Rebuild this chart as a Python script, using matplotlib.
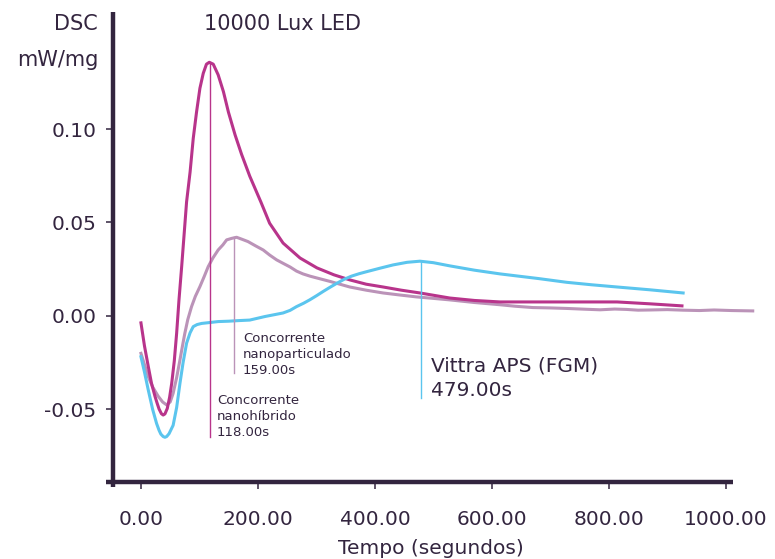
import matplotlib.pyplot as plt

# --- data ---
t_hibrido = [0, 6, 12.5, 18, 24, 28, 31, 35, 38, 41, 45, 49, 52.6, 57, 61, 65, 69.6, 74,
             78, 84, 89.4, 95, 100.8, 106.5, 112, 116.8, 123.6, 132, 141, 149.6, 161,
             172, 186, 205, 220, 243, 272, 301, 330, 357, 385, 414, 445, 477, 528, 570,
             614, 700, 760, 814, 870, 925]
dsc_hibrido = [-0.0037, -0.016, -0.027, -0.036, -0.043, -0.047, -0.0498, -0.0523, -0.053,
               -0.0524, -0.0495, -0.0435, -0.036, -0.024, -0.0093, 0.0085, 0.0264, 0.0445,
               0.061, 0.077, 0.095, 0.109, 0.1218, 0.1298, 0.1347, 0.1357, 0.1347, 0.129,
               0.120, 0.109, 0.0968, 0.0865, 0.0748, 0.061, 0.0496, 0.039, 0.031, 0.0257,
               0.022, 0.0193, 0.017, 0.0155, 0.0138, 0.0123, 0.0096, 0.0083, 0.0075,
               0.0075, 0.0075, 0.0075, 0.0065, 0.0054]

t_nanopart = [0, 6, 12.5, 20, 29.6, 37, 44, 50, 55, 61, 66.7, 71, 75, 80, 86.5, 93, 100.8,
              108, 115, 123, 132, 140, 146.5, 155, 163.5, 173, 183, 196, 209, 220, 232,
              244, 255, 266, 277, 289, 301, 323, 340, 357, 385, 414, 443, 471, 500, 528,
              570, 614, 640, 670, 700, 730, 760, 785, 810, 830, 850, 870, 900, 927, 955,
              980, 1010, 1046]
dsc_nanopart = [-0.020, -0.026, -0.0325, -0.038, -0.043, -0.046, -0.0476, -0.046, -0.0414,
                -0.033, -0.0235, -0.016, -0.0093, -0.002, 0.005, 0.0105, 0.0157, 0.021,
                0.0264, 0.031, 0.0353, 0.038, 0.0407, 0.0415, 0.0421, 0.041, 0.0398,
                0.0375, 0.0353, 0.0326, 0.030, 0.028, 0.0262, 0.024, 0.0225, 0.0213,
                0.0203, 0.0185, 0.017, 0.0155, 0.0138, 0.0123, 0.0112, 0.0102, 0.0094,
                0.0086, 0.0072, 0.006, 0.0052, 0.0045, 0.0043, 0.0040, 0.0036, 0.0033,
                0.0037, 0.0035, 0.0031, 0.0032, 0.0034, 0.0031, 0.0029, 0.0032, 0.0029,
                0.0027]

t_vittra = [0, 6, 12.5, 20, 26.7, 31, 34, 38, 41, 44, 48, 55, 61, 66.7, 72, 78, 84, 89.4,
            96, 103.7, 118, 132, 150, 166, 186, 212, 230, 243, 255, 266, 278, 289, 300,
            312, 323, 335, 348, 360, 373, 386, 408, 431, 455, 477, 500, 528, 570, 614,
            680, 728, 770, 814, 870, 927]
dsc_vittra = [-0.0218, -0.030, -0.0396, -0.050, -0.0575, -0.0612, -0.0632, -0.0645,
              -0.0649, -0.0645, -0.063, -0.0585, -0.049, -0.036, -0.025, -0.0146, -0.009,
              -0.0057, -0.0046, -0.004, -0.0035, -0.003, -0.0028, -0.0025, -0.0022,
              -0.0003, 0.0008, 0.0016, 0.003, 0.005, 0.0068, 0.0087, 0.0108, 0.0132,
              0.0153, 0.0175, 0.0197, 0.0213, 0.0226, 0.0237, 0.0255, 0.0273, 0.0287,
              0.0293, 0.0285, 0.0268, 0.0245, 0.0225, 0.020, 0.018, 0.0167, 0.0155,
              0.014, 0.0123]

peak_times = [118, 159, 479]
peak_values = [0.1357, 0.0421, 0.0293]
line_bottoms = [-0.0647, -0.0305, -0.044]

x_ticks = [0, 200, 400, 600, 800, 1000]
y_ticks = [-0.05, 0.0, 0.05, 0.10]

DARK = '#33253f'
MAGENTA = '#b8348b'
LILAC = '#bb93b8'
BLUE = '#5bc5ee'

plt.rcParams['font.family'] = ['DejaVu Sans']


def main():
    fig = plt.figure(figsize=(7.75, 5.59), dpi=100)
    ax = fig.add_axes([0.1366, 0.1288, 0.849, 0.8497])

    ax.plot(t_nanopart, dsc_nanopart, color=LILAC, lw=2.2)
    ax.plot(t_hibrido, dsc_hibrido, color=MAGENTA, lw=2.2)
    ax.plot(t_vittra, dsc_vittra, color=BLUE, lw=2.2)

    colors = [MAGENTA, LILAC, BLUE]
    for t, top, bot, c in zip(peak_times, peak_values, line_bottoms, colors):
        ax.plot([t, t], [bot, top], color=c, lw=1.0)

    ax.set_xlim(-60, 1065)
    ax.set_ylim(-0.0915, 0.1626)

    for s in ['top', 'right']:
        ax.spines[s].set_visible(False)
    ax.spines['left'].set_position(('data', -48))
    ax.spines['bottom'].set_position(('data', -0.0888))
    ax.spines['bottom'].set_bounds(-60, 1012)
    for s in ['left', 'bottom']:
        ax.spines[s].set_color(DARK)
        ax.spines[s].set_linewidth(3.2)
        ax.spines[s].set_capstyle('butt')

    ax.set_xticks(x_ticks)
    ax.set_xticklabels([f'{v:.2f}' for v in x_ticks])
    ax.set_yticks(y_ticks)
    ax.set_yticklabels([f'{v:.2f}' for v in y_ticks])
    ax.tick_params(axis='both', colors=DARK, labelcolor=DARK, labelsize=14.5,
                   length=5, width=1.1)
    ax.tick_params(axis='x', pad=15)
    ax.tick_params(axis='y', pad=7)

    small = dict(fontsize=9.5, color=DARK, linespacing=1.3, va='top', ha='left')
    fig.text(243 / 775, 1 - 332 / 559, 'Concorrente\nnanoparticulado\n159.00s', **small)
    fig.text(217 / 775, 1 - 394 / 559, 'Concorrente\nnanohíbrido\n118.00s', **small)
    fig.text(431 / 775, 1 - 356 / 559, 'Vittra APS (FGM)\n479.00s', fontsize=14.5,
             color=DARK, linespacing=1.38, va='top', ha='left')

    fig.text(98 / 775, 1 - 30.5 / 559, 'DSC', fontsize=15, color=DARK,
             ha='right', va='baseline')
    fig.text(98 / 775, 1 - 66 / 559, 'mW/mg', fontsize=15, color=DARK,
             ha='right', va='baseline')
    fig.text(204 / 775, 1 - 30 / 559, '10000 Lux LED', fontsize=15, color=DARK,
             ha='left', va='baseline')
    fig.text(431 / 775, 1 - 548 / 559, 'Tempo (segundos)', fontsize=14.5, color=DARK,
             ha='center', va='center')

    fig.savefig('out.png', dpi=100)


if __name__ == "__main__":
    main()
